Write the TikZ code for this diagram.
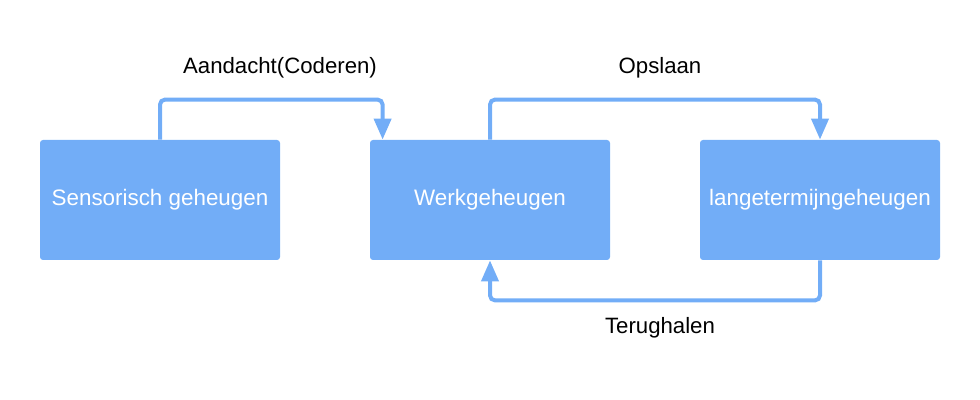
\documentclass[tikz,border=0pt]{standalone}
\usepackage{fontspec}
\setmainfont{Liberation Sans}
\usepackage{tikz}
\usetikzlibrary{arrows.meta,positioning}
\usepackage{xcolor}
\definecolor{memblue}{RGB}{114,173,247}
\tikzstyle{flow} = [line width=2pt,-{Triangle[width=8.5pt,length=10.5pt]},color=memblue,rounded corners=2.5pt]
\tikzstyle{memory} = [rectangle, rounded corners=1.5pt, minimum width=120pt, minimum height=60pt, text centered, fill=memblue, text=white, font=\fontsize{11.2}{13}\selectfont]
\tikzstyle{caption} = [font=\fontsize{11.1}{13}\selectfont, text=black]

\begin{document}
\begin{tikzpicture}[x=0.5pt,y=-0.5pt]
\useasboundingbox (0,0) rectangle (980,400);
% Memory stores
\node (sens) [memory] at (160,200) {Sensorisch geheugen};
\node (werk) [memory, right of=sens, node distance=165pt] {Werkgeheugen};
\node (lang) [memory, right of=werk, node distance=165pt] {langetermijngeheugen};
\coordinate (werkin) at ([xshift=6.5pt]werk.north west);

% Connectors
\draw[flow] (sens.north) -- ++(0,-40) -| (werkin);
\draw[flow] (werk.north) -- ++(0,-40) -| (lang.north);
\draw[flow] (lang.south) -- ++(0,40) -| (werk.south);

% Labels
\node (aandacht) [caption] at (280,68) {Aandacht(Coderen)};
\node (opslaan) [caption] at (660,68) {Opslaan};
\node (terug) [caption] at (660,328) {Terughalen};
\end{tikzpicture}
\end{document}
